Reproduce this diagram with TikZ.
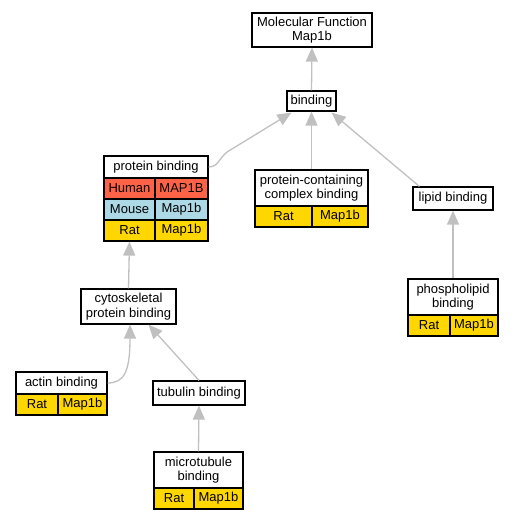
\documentclass[tikz,border=0pt]{standalone}
\usepackage{fontspec}
\setmainfont{Liberation Sans}
\usetikzlibrary{arrows.meta,calc}
\definecolor{edgegray}{HTML}{C0C0C0}
\definecolor{human}{HTML}{FF6347}
\definecolor{mouse}{HTML}{ADD8E6}
\definecolor{rat}{HTML}{FFD700}
\tikzset{
  box/.style={draw=black, line width=1.2pt, fill=white, inner sep=0pt, align=center,
    font=\fontsize{13}{14.5}\selectfont},
  cell/.style={box},
  edge/.style={draw=edgegray, line width=1.3pt, -{Triangle[length=14pt,width=12pt]}},
}
\begin{document}
\begin{tikzpicture}[x=1pt,y=-1pt]
\useasboundingbox (0,0) rectangle (515,520);
% Molecular Function
\node[box, minimum width=120pt, minimum height=34pt] (mf) at (312,30) {Molecular Function\\Map1b};
\node[box, minimum width=49pt, minimum height=20pt] (bind) at (311.5,101) {binding};
% protein binding
\node[box, minimum width=104pt, minimum height=22pt] (pbh) at (156,167) {protein binding};
\node[cell, fill=human, minimum width=51pt, minimum height=21pt] (pbhs) at (129.5,188.5) {Human};
\node[cell, fill=human, minimum width=53pt, minimum height=21pt] (pbhg) at (181.5,188.5) {MAP1B};
\node[cell, fill=mouse, minimum width=51pt, minimum height=21pt] (pbms) at (129.5,209.5) {Mouse};
\node[cell, fill=mouse, minimum width=53pt, minimum height=21pt] (pbmg) at (181.5,209.5) {Map1b};
\node[cell, fill=rat, minimum width=51pt, minimum height=21pt] (pbrs) at (129.5,230.5) {Rat};
\node[cell, fill=rat, minimum width=53pt, minimum height=21pt] (pbrg) at (181.5,230.5) {Map1b};
% protein-containing complex binding
\node[box, minimum width=113pt, minimum height=36pt] (pcc) at (311.5,188) {protein-containing\\complex binding};
\node[cell, fill=rat, minimum width=57pt, minimum height=21pt] (pccs) at (283.5,216.5) {Rat};
\node[cell, fill=rat, minimum width=56pt, minimum height=21pt] (pccg) at (340,216.5) {Map1b};
% lipid binding
\node[box, minimum width=80pt, minimum height=23pt] (lip) at (453,198.5) {lipid binding};
% phospholipid binding
\node[box, minimum width=90pt, minimum height=36pt] (pho) at (453,297) {phospholipid\\binding};
\node[cell, fill=rat, minimum width=42pt, minimum height=21pt] (phos) at (429,325.5) {Rat};
\node[cell, fill=rat, minimum width=48pt, minimum height=21pt] (phog) at (474,325.5) {Map1b};
% cytoskeletal protein binding
\node[box, minimum width=95pt, minimum height=35pt] (cyto) at (128.5,306.5) {cytoskeletal\\protein binding};
% actin binding
\node[box, minimum width=91pt, minimum height=22pt] (act) at (61.5,383) {actin binding};
\node[cell, fill=rat, minimum width=42pt, minimum height=21pt] (acts) at (37,404.5) {Rat};
\node[cell, fill=rat, minimum width=49pt, minimum height=21pt] (actg) at (82.5,404.5) {Map1b};
% tubulin binding
\node[box, minimum width=92pt, minimum height=24pt] (tub) at (199,393) {tubulin binding};
% microtubule binding
\node[box, minimum width=89pt, minimum height=36pt] (mic) at (198.5,470) {microtubule\\binding};
\node[cell, fill=rat, minimum width=40pt, minimum height=21pt] (mics) at (174,498.5) {Rat};
\node[cell, fill=rat, minimum width=49pt, minimum height=21pt] (micg) at (218.5,498.5) {Map1b};
% edges
\draw[edge] (bind.north) -- (mf.south);
\draw[edge] (pcc.north) -- (bind.south);
\draw[edge] (pbh.east) .. controls (220,167) and (218,156) .. (232,149) -- ($(bind.south west)+(5,1)$);
\draw[edge] ($(lip.north west)+(7,0)$) -- ($(bind.south east)+(-5,1)$);
\draw[edge] (pho.north) -- (lip.south);
\draw[edge] (cyto.north) -- (pbrs.south);
\draw[edge] (act.east) .. controls (124,383) and (130,372) .. ($(cyto.south)+(1.5,0)$);
\draw[edge] (tub.north) -- ($(cyto.south)+(20,0)$);
\draw[edge] (mic.north) -- (tub.south);
\end{tikzpicture}
\end{document}
